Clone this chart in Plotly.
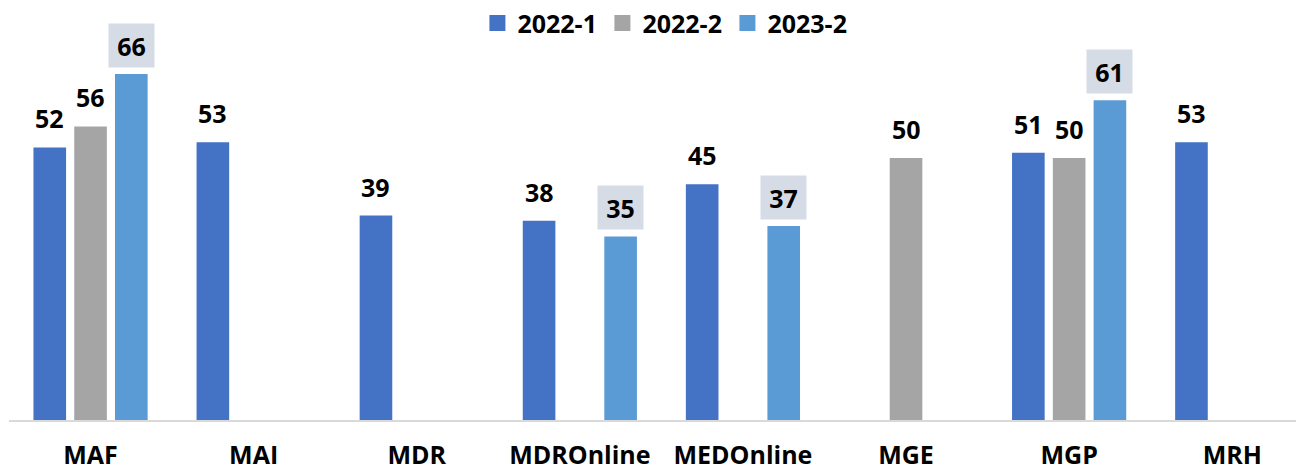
import plotly.graph_objects as go

categories = ["MAF", "MAI", "MDR", "MDROnline", "MEDOnline", "MGE", "MGP", "MRH"]
series_names = ["2022-1", "2022-2", "2023-2"]
s2022_1 = [52, 53, 39, 38, 45, None, 51, 53]
s2022_2 = [56, None, None, None, None, 50, 50, None]
s2023_2 = [66, None, None, 35, 37, None, 61, None]
colors = ["#4472C4", "#A5A5A5", "#5B9BD5"]

FONT = "Open Sans"
all_series = [s2022_1, s2022_2, s2023_2]

fig = go.Figure()
for name, vals, col in zip(series_names, all_series, colors):
    fig.add_trace(go.Bar(name=name, x=categories, y=vals, legendgroup=name, showlegend=False,
                         marker=dict(color=col, line=dict(width=0))))
# legend entries (square swatches like the reference)
for name, col in zip(series_names, colors):
    fig.add_trace(go.Scatter(name=f"<b>{name}</b>", x=[None], y=[None], mode="markers",
                             legendgroup=name, hoverinfo="skip",
                             marker=dict(symbol="square", size=16, color=col)))

bargap = 0.25
slot = (1 - bargap) / 3
annotations = []
for k, vals in enumerate(all_series):
    for i, v in enumerate(vals):
        if v is None:
            continue
        a = dict(x=i + (k - 1) * slot, y=v, xref="x", yref="y", text=f"<b>{v}</b>",
                 showarrow=False, yanchor="middle", xanchor="center", yshift=29,
                 font=dict(family=FONT, size=25, color="#000000"))
        if k == 2:
            a.update(bgcolor="#D6DCE5", width=45, height=43, borderpad=0)
        annotations.append(a)

fig.update_layout(
    width=1296, height=457,
    margin=dict(l=1, r=0, t=32, b=45, autoexpand=False),
    barmode="group", bargap=bargap, bargroupgap=0.2,
    plot_bgcolor="white", paper_bgcolor="white",
    font=dict(family=FONT, size=25, color="#000000"),
    legend=dict(orientation="h", x=0.5065, xanchor="center", y=1.044, yanchor="middle",
                font=dict(family=FONT, size=25, color="#000000"), itemsizing="trace",
                entrywidth=80, entrywidthmode="pixels", bgcolor="rgba(0,0,0,0)"),
    annotations=annotations,
)
fig.update_xaxes(range=[-0.5, 7.44], showline=True, linecolor="#D9D9D9", linewidth=2,
                 ticks="", ticklabelstandoff=12, automargin=False,
                 tickfont=dict(family=FONT, size=25, color="#000000", weight="bold"))
fig.update_yaxes(range=[0, 72.5], visible=False, showgrid=False, zeroline=False, automargin=False)

fig.write_html("out.html")
